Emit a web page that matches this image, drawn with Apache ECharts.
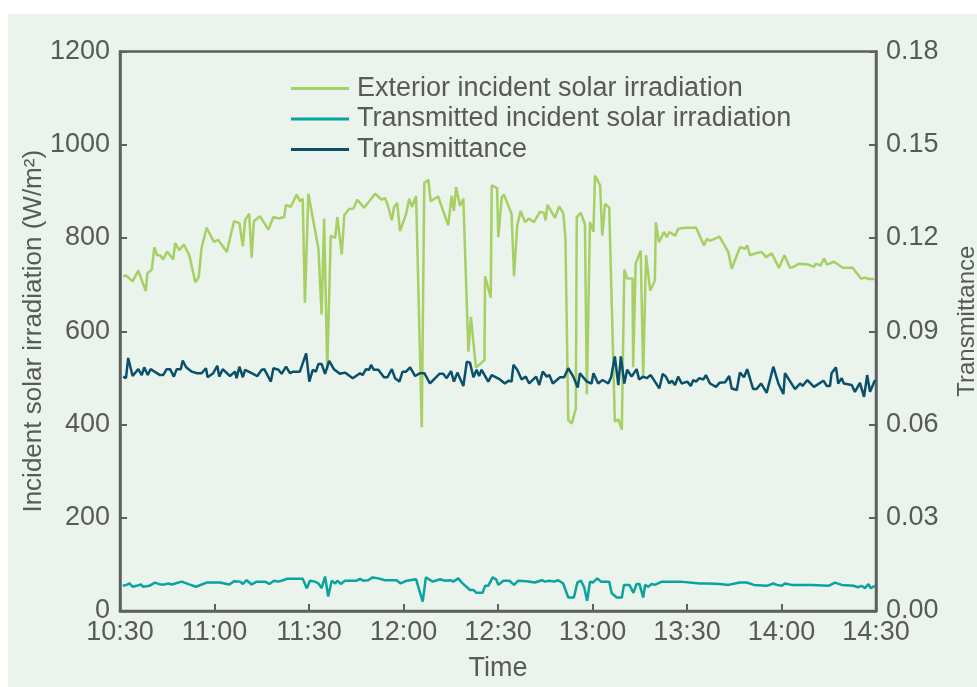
<!DOCTYPE html>
<html>
<head>
<meta charset="utf-8">
<title>Solar irradiation and transmittance</title>
<script src="https://cdn.jsdelivr.net/npm/echarts@6/dist/echarts.min.js"></script>
<style>
  html, body { margin: 0; padding: 0; background: #ffffff; }
  #panel { position: absolute; left: 8px; top: 14px; width: 969px; height: 673px; background: #eaf3ec; }
  #chart { position: absolute; left: 0; top: 0; width: 977px; height: 687px; }
</style>
</head>
<body>
<div id="panel"></div>
<div id="chart"></div>
<script>
// minutes after 10:30
const extTime = [1.0, 1.9, 4.0, 5.8, 8.2, 8.7, 10.1, 10.9, 11.8, 12.7, 13.7, 15.0, 16.9, 17.5, 18.8, 20.3, 22.0, 23.9, 25.0, 25.9,
  27.5, 29.8, 31.2, 33.9, 36.2, 36.8, 37.9, 39.0, 39.7, 41.0, 41.8, 42.5, 44.4, 47.1, 48.7, 50.3, 52.1, 52.7, 54.2, 56.1,
  57.1, 58.0, 58.7, 59.8, 63.0, 64.0, 64.8, 65.8, 66.9, 68.3, 69.0, 70.4, 71.2, 72.7, 74.1, 75.3, 77.5, 81.0, 83.1, 84.1,
  84.9, 86.3, 87.0, 88.0, 88.9, 90.8, 91.8, 92.7, 94.0, 95.8, 96.6, 97.9, 98.6, 101.0, 104.2, 105.3, 106.0, 106.7, 107.9, 109.0,
  110.6, 111.4, 113.0, 115.7, 115.9, 117.7, 118.0, 119.7, 120.1, 121.2, 121.9, 124.3, 125.1, 126.1, 127.2, 128.6, 129.8, 131.4, 133.3, 134.6,
  135.1, 135.7, 138.1, 139.4, 140.7, 141.4, 142.3, 143.4, 144.7, 145.0, 146.3, 147.6, 148.2, 149.2, 150.3, 150.8, 152.4, 153.1, 154.0, 155.3,
  157.1, 158.2, 159.3, 160.1, 161.0, 162.7, 162.9, 163.7, 165.3, 166.1, 167.0, 168.3, 169.8, 170.1, 171.1, 172.7, 173.6, 174.4, 176.2, 177.2,
  179.4, 182.9, 185.4, 186.3, 187.3, 190.3, 193.1, 194.2, 196.8, 198.4, 199.1, 200.0, 202.1, 203.7, 205.1, 206.9, 209.2, 210.9, 212.7, 213.8,
  215.6, 218.5, 220.3, 220.9, 222.4, 223.5, 224.4, 226.7, 229.4, 232.6, 235.2, 236.5, 237.6, 239.7];
const extValue = [717, 720, 707, 730, 686, 725, 732, 780, 763, 763, 754, 771, 754, 789, 774, 786, 763, 705, 716, 779,
  822, 792, 796, 770, 836, 832, 832, 782, 838, 852, 758, 836, 847, 818, 845, 842, 845, 871, 867, 893,
  879, 884, 661, 895, 777, 636, 842, 517, 805, 800, 845, 765, 849, 862, 863, 882, 865, 895, 882, 886,
  873, 838, 866, 875, 815, 851, 884, 867, 890, 394, 918, 925, 879, 889, 827, 891, 858, 909, 869, 884,
  556, 631, 522, 538, 718, 672, 913, 907, 802, 887, 893, 852, 718, 827, 858, 834, 842, 834, 856, 854,
  838, 871, 843, 868, 854, 802, 410, 402, 434, 845, 854, 829, 465, 834, 813, 934, 913, 805, 873, 865,
  406, 411, 389, 732, 713, 713, 523, 745, 773, 505, 763, 687, 709, 834, 791, 813, 802, 813, 805, 820,
  822, 822, 784, 798, 794, 803, 770, 734, 780, 777, 784, 763, 768, 770, 759, 767, 736, 763, 736, 738,
  745, 743, 738, 745, 741, 756, 743, 749, 736, 736, 713, 715, 712, 712];

const trTime = [0.9, 2.1, 3.0, 4.0, 5.3, 6.6, 7.4, 9.3, 11.1, 12.7, 14.3, 15.3, 16.4, 19.6, 22.0, 24.1, 27.5, 31.7, 32.3, 34.7,
  36.2, 38.1, 39.0, 40.2, 41.8, 43.4, 46.0, 47.4, 48.9, 50.3, 51.8, 52.9, 56.1, 58.0, 59.3, 60.3, 61.9, 63.0, 64.0, 65.1,
  66.1, 67.2, 68.3, 69.0, 70.1, 71.4, 75.1, 76.2, 77.2, 78.8, 80.2, 82.0, 84.1, 87.8, 89.1, 91.0, 94.0, 96.1, 97.1, 99.3,
  101.6, 103.2, 104.8, 105.8, 107.4, 108.5, 111.1, 112.2, 113.2, 115.1, 115.9, 116.9, 118.3, 119.4, 120.1, 121.7, 123.6, 125.1, 126.4, 129.1,
  131.7, 133.9, 134.9, 136.3, 137.8, 139.1, 140.7, 142.3, 144.1, 145.2, 146.3, 147.3, 148.3, 149.2, 150.1, 151.5, 152.7, 155.3, 156.1, 157.7,
  159.3, 160.0, 161.7, 163.0, 164.0, 164.9, 166.1, 166.7, 167.7, 168.8, 169.8, 172.0, 177.8, 184.1, 186.8, 190.5, 193.1, 196.8, 198.9, 201.3,
  205.3, 207.4, 208.5, 210.1, 211.1, 213.2, 219.6, 224.9, 227.0, 229.1, 232.8, 234.3, 235.4, 236.5, 237.6, 238.3, 239.7];
const trValue = [54, 56, 59, 52, 54, 57, 52, 54, 61, 57, 57, 59, 57, 63, 57, 52, 61, 61, 57, 57,
  64, 63, 58, 66, 57, 63, 63, 58, 65, 63, 66, 69, 69, 69, 49, 65, 63, 59, 49, 74,
  31, 65, 59, 65, 58, 65, 65, 69, 65, 66, 72, 70, 66, 66, 59, 65, 68, 20, 72, 63,
  68, 65, 66, 63, 70, 61, 45, 45, 39, 39, 54, 54, 72, 68, 56, 65, 65, 56, 65, 64,
  61, 66, 63, 65, 63, 66, 59, 29, 29, 61, 65, 52, 22, 63, 61, 70, 63, 63, 38, 29,
  29, 56, 56, 39, 58, 58, 29, 56, 52, 58, 56, 63, 63, 59, 59, 58, 56, 61, 61, 56,
  54, 59, 56, 54, 59, 56, 56, 54, 61, 56, 54, 51, 54, 49, 58, 49, 54];

const tauTime = [1.0, 1.9, 2.6, 4.0, 5.8, 6.9, 7.7, 8.8, 9.7, 12.7, 13.7, 14.8, 15.9, 17.1, 18.0, 19.3, 19.9, 21.0, 22.8, 24.5,
  25.9, 27.3, 27.8, 29.6, 30.9, 31.5, 32.6, 34.9, 36.5, 37.0, 37.9, 39.0, 39.7, 41.8, 43.6, 45.0, 45.8, 47.9, 48.7, 50.3,
  51.3, 52.7, 54.0, 55.0, 57.1, 59.1, 60.1, 61.2, 62.2, 63.0, 64.0, 65.1, 66.4, 67.9, 69.8, 71.4, 73.9, 76.2, 77.0, 78.1,
  79.1, 79.7, 80.6, 82.0, 83.8, 84.9, 86.3, 87.3, 88.7, 89.7, 90.8, 92.1, 93.7, 95.2, 96.6, 98.4, 101.4, 102.6, 103.7, 105.1,
  106.0, 107.1, 109.0, 110.1, 111.1, 112.2, 113.2, 114.0, 114.8, 116.9, 118.0, 120.6, 122.2, 123.3, 124.3, 124.9, 126.1, 127.5, 128.8, 129.9,
  132.1, 133.1, 134.2, 135.5, 136.3, 137.4, 139.7, 141.0, 142.3, 143.9, 145.3, 146.0, 148.2, 149.7, 150.3, 151.8, 153.2, 155.0, 155.9, 157.1,
  158.2, 159.0, 160.1, 161.0, 162.4, 164.0, 164.8, 166.1, 167.2, 168.5, 171.2, 172.3, 173.3, 174.4, 175.2, 176.2, 177.2, 178.3, 180.1, 181.2,
  182.0, 182.9, 183.9, 185.2, 186.0, 187.3, 189.2, 190.3, 192.1, 193.4, 194.2, 195.8, 196.8, 198.1, 199.1, 201.0, 202.1, 203.5, 205.3, 207.4,
  209.0, 210.6, 211.1, 214.3, 215.9, 216.7, 218.2, 220.3, 223.3, 224.4, 225.4, 225.9, 227.3, 228.0, 229.1, 229.8, 232.3, 233.3, 234.9, 236.2,
  237.2, 238.1, 239.7];
const tauValue = [0.0754, 0.0749, 0.0814, 0.0756, 0.0778, 0.0759, 0.0784, 0.0759, 0.0778, 0.0759, 0.0759, 0.0778, 0.0778, 0.0754, 0.0778, 0.0778, 0.0806, 0.0784, 0.0770, 0.0765,
  0.0765, 0.0781, 0.0752, 0.0765, 0.0789, 0.0754, 0.0778, 0.0756, 0.0770, 0.0749, 0.0786, 0.0752, 0.0776, 0.0765, 0.0756, 0.0776, 0.0778, 0.0738, 0.0781, 0.0776,
  0.0763, 0.0786, 0.0765, 0.0770, 0.0770, 0.0829, 0.0738, 0.0776, 0.0770, 0.0795, 0.0795, 0.0763, 0.0805, 0.0778, 0.0763, 0.0767, 0.0749, 0.0765, 0.0759, 0.0778,
  0.0776, 0.0792, 0.0776, 0.0776, 0.0752, 0.0752, 0.0778, 0.0749, 0.0738, 0.0770, 0.0770, 0.0784, 0.0756, 0.0765, 0.0765, 0.0732, 0.0763, 0.0763, 0.0749, 0.0772,
  0.0738, 0.0767, 0.0724, 0.0802, 0.0799, 0.0752, 0.0776, 0.0756, 0.0776, 0.0738, 0.0759, 0.0745, 0.0732, 0.0741, 0.0738, 0.0792, 0.0776, 0.0745, 0.0754, 0.0732,
  0.0754, 0.0727, 0.0770, 0.0754, 0.0759, 0.0732, 0.0752, 0.0752, 0.0781, 0.0754, 0.0719, 0.0765, 0.0738, 0.0732, 0.0765, 0.0732, 0.0743, 0.0732, 0.0752, 0.0819,
  0.0727, 0.0819, 0.0732, 0.0776, 0.0754, 0.0778, 0.0745, 0.0754, 0.0749, 0.0759, 0.0716, 0.0763, 0.0754, 0.0732, 0.0741, 0.0727, 0.0754, 0.0732, 0.0738, 0.0724,
  0.0743, 0.0738, 0.0749, 0.0745, 0.0759, 0.0732, 0.0721, 0.0734, 0.0736, 0.0756, 0.0716, 0.0711, 0.0767, 0.0752, 0.0778, 0.0714, 0.0714, 0.0732, 0.0702, 0.0786,
  0.0732, 0.0698, 0.0765, 0.0714, 0.0732, 0.0724, 0.0743, 0.0721, 0.0741, 0.0724, 0.0724, 0.0765, 0.0784, 0.0732, 0.0749, 0.0732, 0.0727, 0.0705, 0.0734, 0.0689,
  0.0759, 0.0705, 0.0743];

const seriesNames = ['Exterior incident solar irradiation', 'Transmitted incident solar irradiation', 'Transmittance'];

const zip = (t, v) => t.map((x, i) => [x, v[i]]);

const chart = echarts.init(document.getElementById('chart'));
const textColor = '#595959';
const axisColor = '#5f5f5f';
const font = 'Liberation Sans, Arial, sans-serif';

// 10:30 + minutes -> "HH:MM"
function clock(m) {
  const total = 630 + m;
  const h = Math.floor(total / 60);
  const mm = total % 60;
  return h + ':' + (mm < 10 ? '0' : '') + mm;
}

const option = {
  animation: false,
  backgroundColor: 'transparent',
  textStyle: { fontFamily: font },
  grid: {
    left: 120, right: 101, top: 51.5, bottom: 76,
    outerBoundsMode: 'none',
    show: true, borderColor: axisColor, borderWidth: 2.5, backgroundColor: 'transparent'
  },
  legend: {
    orient: 'vertical',
    left: 286,
    top: 70,
    itemWidth: 58,
    itemHeight: 3,
    itemGap: 3.5,
    icon: 'rect',
    textStyle: { color: textColor, fontSize: 27, fontFamily: font, padding: [0, 0, 0, 3] },
    data: seriesNames
  },
  xAxis: {
    type: 'value',
    min: 0, max: 240, interval: 30,
    name: 'Time',
    nameLocation: 'middle',
    nameGap: 44,
    nameTextStyle: { color: textColor, fontSize: 27, fontFamily: font },
    axisLine: { lineStyle: { color: axisColor, width: 2.5 } },
    axisTick: { inside: true, length: 7, lineStyle: { color: axisColor, width: 2 } },
    axisLabel: { color: textColor, fontSize: 27, margin: 8, fontFamily: font, formatter: clock },
    splitLine: { show: false }
  },
  yAxis: [{
    type: 'value',
    min: 0, max: 1200, interval: 200,
    name: 'Incident solar irradiation (W/m²)',
    nameLocation: 'middle',
    nameGap: 73,
    nameMoveOverlap: false,
    nameTextStyle: { color: textColor, fontSize: 26, fontFamily: font },
    axisLine: { show: true, lineStyle: { color: axisColor, width: 2.5 } },
    axisTick: { show: true, inside: true, length: 7, lineStyle: { color: axisColor, width: 2 } },
    axisLabel: { color: textColor, fontSize: 27, margin: 10, fontFamily: font, formatter: v => String(v) },
    splitLine: { show: false }
  }, {
    type: 'value',
    min: 0, max: 0.18, interval: 0.03,
    name: 'Transmittance',
    nameLocation: 'middle',
    nameGap: 79,
    nameTextStyle: { color: textColor, fontSize: 24, fontFamily: font, padding: [0, 0, 0, 20] },
    axisLine: { show: true, lineStyle: { color: axisColor, width: 2.5 } },
    axisTick: { show: true, inside: true, length: 7, lineStyle: { color: axisColor, width: 2 } },
    axisLabel: { color: textColor, fontSize: 27, margin: 10, fontFamily: font, formatter: v => v.toFixed(2) },
    splitLine: { show: false }
  }],
  series: [{
    name: seriesNames[0],
    type: 'line',
    yAxisIndex: 0,
    showSymbol: false,
    color: '#a6d063',
    lineStyle: { width: 2.5 },
    data: zip(extTime, extValue)
  }, {
    name: seriesNames[1],
    type: 'line',
    yAxisIndex: 0,
    showSymbol: false,
    color: '#0aa3a0',
    lineStyle: { width: 2.5 },
    data: zip(trTime, trValue)
  }, {
    name: seriesNames[2],
    type: 'line',
    yAxisIndex: 1,
    showSymbol: false,
    color: '#0b506b',
    lineStyle: { width: 2.5 },
    data: zip(tauTime, tauValue)
  }]
};

chart.setOption(option);
</script>
</body>
</html>
